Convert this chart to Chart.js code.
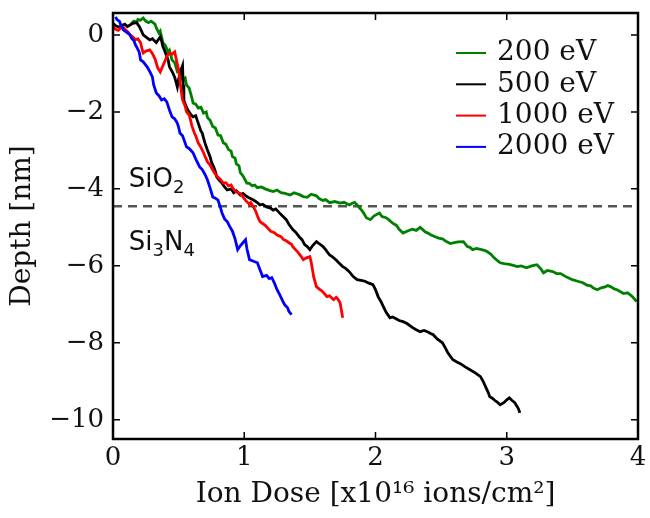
<!DOCTYPE html>
<html>
<head>
<meta charset="utf-8">
<script src="https://cdn.jsdelivr.net/npm/chart.js@4/dist/chart.umd.min.js"></script>
<style>
  html, body { margin: 0; padding: 0; background: #fff; }
  #wrap { width: 650px; height: 518px; }
</style>
</head>
<body>
<div id="wrap"><canvas id="depthChart" width="650" height="518"></canvas></div>
<script>
// data (dose in 1e16 ions/cm2, depth in nm)
const labels = ['200 eV', '500 eV', '1000 eV', '2000 eV'];
const colors = ['#008000', '#000000', '#ff0000', '#0000ff'];

const dose200 = [0.14,0.16,0.18,0.19,0.21,0.23,0.25,0.27,0.29,0.32,0.33,0.35,0.36,0.38,0.40,0.42,0.43,0.45,0.47,0.49,0.51,0.53,0.55,0.56,0.58,0.59,0.60,0.61,0.63,0.65,0.67,0.69,0.71,0.72,0.74,0.76,0.78,0.80,0.82,0.84,0.86,0.88,0.90,0.91,0.93,0.94,0.96,0.97,0.99,1.02,1.04,1.06,1.08,1.10,1.13,1.16,1.19,1.22,1.25,1.28,1.31,1.35,1.38,1.42,1.45,1.48,1.51,1.55,1.57,1.60,1.62,1.65,1.69,1.73,1.76,1.80,1.82,1.84,1.86,1.88,1.90,1.91,1.93,1.96,1.99,2.03,2.05,2.08,2.10,2.13,2.16,2.18,2.21,2.24,2.28,2.31,2.34,2.36,2.38,2.40,2.42,2.45,2.48,2.51,2.54,2.57,2.60,2.63,2.67,2.70,2.72,2.74,2.77,2.80,2.83,2.85,2.88,2.90,2.92,2.95,2.98,3.02,3.05,3.08,3.11,3.15,3.19,3.23,3.26,3.28,3.31,3.35,3.38,3.41,3.44,3.46,3.48,3.50,3.54,3.58,3.61,3.64,3.66,3.69,3.72,3.75,3.77,3.79,3.82,3.84,3.87,3.89,3.92,3.95,3.97,3.99];
const depth200 = [0.30,0.36,0.33,0.40,0.38,0.44,0.36,0.32,0.36,0.28,0.18,0.05,0.10,-0.20,-0.28,-0.45,-0.40,-0.65,-0.72,-0.95,-0.90,-1.17,-1.12,-1.30,-1.38,-1.50,-1.62,-1.77,-1.80,-1.90,-1.88,-2.03,-2.00,-2.15,-2.22,-2.38,-2.42,-2.60,-2.62,-2.80,-2.84,-2.98,-3.02,-3.16,-3.20,-3.35,-3.40,-3.58,-3.66,-3.85,-3.86,-3.92,-3.90,-3.97,-3.95,-4.00,-4.04,-4.07,-4.03,-4.10,-4.12,-4.16,-4.10,-4.15,-4.20,-4.22,-4.14,-4.18,-4.25,-4.30,-4.28,-4.36,-4.33,-4.37,-4.35,-4.42,-4.38,-4.35,-4.42,-4.50,-4.58,-4.63,-4.75,-4.80,-4.70,-4.63,-4.72,-4.75,-4.80,-4.89,-4.95,-5.05,-5.15,-5.10,-5.05,-5.08,-5.00,-5.06,-5.12,-5.15,-5.19,-5.24,-5.28,-5.30,-5.37,-5.42,-5.40,-5.38,-5.37,-5.50,-5.52,-5.58,-5.55,-5.57,-5.60,-5.63,-5.70,-5.78,-5.84,-5.92,-5.94,-5.96,-5.99,-6.02,-6.00,-6.05,-6.00,-5.97,-6.08,-6.18,-6.12,-6.15,-6.20,-6.20,-6.26,-6.30,-6.33,-6.36,-6.40,-6.44,-6.50,-6.52,-6.58,-6.62,-6.57,-6.55,-6.51,-6.54,-6.60,-6.62,-6.68,-6.72,-6.70,-6.78,-6.85,-6.93];

const dose500 = [0.00,0.02,0.05,0.07,0.09,0.11,0.13,0.15,0.18,0.20,0.21,0.22,0.23,0.25,0.28,0.30,0.33,0.35,0.36,0.37,0.38,0.39,0.40,0.42,0.43,0.45,0.47,0.48,0.49,0.50,0.51,0.52,0.53,0.535,0.54,0.55,0.57,0.59,0.61,0.63,0.64,0.66,0.67,0.68,0.69,0.70,0.71,0.72,0.74,0.75,0.77,0.78,0.79,0.81,0.83,0.85,0.87,0.90,0.92,0.94,0.97,0.99,1.02,1.04,1.07,1.10,1.12,1.14,1.17,1.20,1.22,1.24,1.27,1.29,1.32,1.34,1.37,1.39,1.42,1.44,1.46,1.48,1.50,1.52,1.55,1.57,1.60,1.62,1.65,1.67,1.70,1.72,1.75,1.77,1.80,1.83,1.86,1.89,1.92,1.95,1.98,2.00,2.02,2.04,2.06,2.08,2.11,2.13,2.16,2.18,2.21,2.24,2.28,2.31,2.34,2.37,2.40,2.42,2.44,2.47,2.51,2.53,2.55,2.57,2.59,2.62,2.65,2.68,2.72,2.76,2.80,2.82,2.84,2.86,2.87,2.89,2.91,2.93,2.95,2.98,3.00,3.02,3.04,3.06,3.08,3.09,3.10];
const depth500 = [0.30,0.24,0.20,0.25,0.28,0.22,0.26,0.30,0.32,0.22,0.15,0.08,0.00,-0.05,-0.13,-0.10,-0.20,-0.10,-0.05,-0.15,-0.30,-0.38,-0.47,-0.65,-0.83,-0.95,-1.10,-1.22,-1.35,-1.15,-1.00,-0.90,-0.80,-1.30,-1.70,-1.80,-1.95,-2.05,-2.13,-2.10,-2.20,-2.40,-2.50,-2.55,-2.68,-2.80,-2.90,-3.00,-3.17,-3.30,-3.45,-3.55,-3.69,-3.78,-3.85,-3.95,-4.03,-4.00,-4.10,-4.05,-4.16,-4.12,-4.20,-4.24,-4.29,-4.36,-4.42,-4.40,-4.47,-4.50,-4.55,-4.52,-4.63,-4.70,-4.80,-4.92,-5.06,-5.12,-5.25,-5.32,-5.45,-5.50,-5.58,-5.48,-5.37,-5.42,-5.50,-5.58,-5.72,-5.76,-5.85,-5.92,-6.02,-6.06,-6.15,-6.28,-6.36,-6.38,-6.40,-6.45,-6.49,-6.62,-6.80,-6.92,-7.06,-7.20,-7.35,-7.33,-7.38,-7.42,-7.45,-7.50,-7.60,-7.66,-7.71,-7.68,-7.72,-7.76,-7.79,-7.90,-8.00,-8.12,-8.25,-8.35,-8.44,-8.50,-8.55,-8.62,-8.70,-8.78,-8.88,-9.00,-9.15,-9.30,-9.40,-9.44,-9.50,-9.55,-9.61,-9.55,-9.48,-9.43,-9.50,-9.55,-9.66,-9.72,-9.82];

const dose1000 = [0.00,0.02,0.04,0.06,0.08,0.10,0.12,0.13,0.15,0.17,0.19,0.21,0.22,0.23,0.25,0.28,0.30,0.31,0.32,0.33,0.34,0.36,0.38,0.40,0.41,0.43,0.45,0.47,0.48,0.50,0.51,0.52,0.53,0.55,0.56,0.58,0.59,0.60,0.62,0.63,0.65,0.67,0.69,0.70,0.72,0.74,0.76,0.78,0.80,0.82,0.84,0.86,0.88,0.90,0.91,0.93,0.95,0.97,0.99,1.01,1.04,1.05,1.07,1.09,1.10,1.11,1.12,1.14,1.16,1.18,1.20,1.23,1.25,1.28,1.30,1.32,1.34,1.36,1.37,1.39,1.41,1.43,1.45,1.47,1.50,1.51,1.52,1.53,1.55,1.57,1.59,1.61,1.63,1.65,1.68,1.70,1.71,1.72,1.73,1.74,1.75];
const depth1000 = [0.20,0.15,0.12,0.18,0.20,0.12,0.05,0.00,-0.05,-0.12,-0.10,-0.20,-0.35,-0.47,-0.42,-0.39,-0.48,-0.55,-0.62,-0.73,-0.85,-0.96,-0.80,-0.65,-0.55,-0.47,-0.50,-0.44,-0.60,-0.91,-1.20,-1.45,-1.69,-1.85,-2.00,-2.08,-2.20,-2.35,-2.55,-2.62,-2.81,-2.92,-3.06,-3.15,-3.30,-3.38,-3.51,-3.62,-3.70,-3.76,-3.85,-3.84,-3.92,-3.90,-3.97,-4.05,-4.10,-4.12,-4.21,-4.30,-4.40,-4.36,-4.47,-4.60,-4.70,-4.78,-4.85,-4.90,-4.95,-5.02,-5.10,-5.14,-5.20,-5.24,-5.32,-5.35,-5.40,-5.44,-5.50,-5.58,-5.65,-5.74,-5.84,-5.80,-5.76,-5.90,-6.10,-6.30,-6.54,-6.60,-6.65,-6.72,-6.80,-6.78,-6.88,-6.82,-6.85,-6.90,-6.96,-7.15,-7.35];

const dose2000 = [0.02,0.03,0.05,0.06,0.08,0.10,0.13,0.14,0.16,0.17,0.18,0.20,0.21,0.23,0.26,0.28,0.30,0.31,0.33,0.35,0.37,0.39,0.41,0.43,0.45,0.47,0.49,0.50,0.51,0.53,0.56,0.58,0.61,0.63,0.66,0.68,0.70,0.72,0.74,0.76,0.78,0.80,0.82,0.83,0.85,0.87,0.89,0.91,0.93,0.95,0.97,0.99,1.01,1.02,1.04,1.07,1.10,1.12,1.14,1.17,1.19,1.21,1.23,1.25,1.27,1.30,1.31,1.33,1.34,1.36];
const depth2000 = [0.47,0.40,0.35,0.25,0.13,0.08,0.00,-0.08,-0.15,-0.25,-0.31,-0.45,-0.65,-0.70,-0.83,-0.95,-1.09,-1.30,-1.51,-1.58,-1.69,-1.66,-1.74,-1.95,-2.13,-2.18,-2.29,-2.40,-2.55,-2.62,-2.91,-2.95,-3.06,-3.22,-3.43,-3.50,-3.62,-3.77,-3.98,-4.21,-4.24,-4.29,-4.50,-4.62,-4.78,-4.85,-4.98,-5.10,-5.30,-5.58,-5.48,-5.40,-5.32,-5.55,-5.84,-5.88,-5.92,-6.10,-6.28,-6.25,-6.33,-6.31,-6.45,-6.62,-6.75,-6.96,-7.02,-7.09,-7.18,-7.27];

const xTicks = [0, 1, 2, 3, 4];
const yTicks = [-10, -8, -6, -4, -2, 0];
const interfaceDepth = -4.45;
const layerNames = ['SiO2', 'Si3N4'];
const layerLabelX = [0.12, 0.12];
const layerLabelY = [-3.95, -5.58];

const allDose = [dose200, dose500, dose1000, dose2000];
const allDepth = [depth200, depth500, depth1000, depth2000];

function toPoints(xs, ys) {
  return xs.map((x, i) => ({ x: x, y: ys[i] }));
}

// blue is drawn on top, green at the bottom
const datasets = labels.map((lab, i) => ({
  label: lab,
  data: toPoints(allDose[i], allDepth[i]),
  borderColor: colors[i],
  borderWidth: 2.8,
  pointRadius: 0,
  tension: 0,
  fill: false,
  order: labels.length - i
}));
datasets.push({
  label: 'interface',
  data: [{ x: xTicks[0], y: interfaceDepth }, { x: xTicks[xTicks.length - 1], y: interfaceDepth }],
  borderColor: '#555555',
  borderWidth: 2.5,
  borderDash: [9, 6],
  pointRadius: 0,
  fill: false,
  order: 10
});

function minusLabel(v) {
  return v < 0 ? '\u2212' + Math.abs(v) : String(v);
}

// chemical formula with digits as subscripts
function drawFormula(ctx, text, x, y) {
  let cx = x;
  for (const ch of text) {
    const sub = ch >= '0' && ch <= '9';
    ctx.font = sub ? '18px "DejaVu Sans"' : '26px "DejaVu Sans"';
    ctx.fillText(ch, cx, sub ? y + 6 : y);
    cx += ctx.measureText(ch).width;
  }
}

// frame, inward ticks, legend and layer labels
const decorations = {
  id: 'decorations',
  afterDraw(chart) {
    const { ctx, chartArea: a, scales } = chart;
    const xs = scales.x, ys = scales.y;
    ctx.save();
    ctx.strokeStyle = '#000';
    ctx.lineWidth = 1.5;
    const tl = 7;
    xTicks.forEach(v => {
      const px = xs.getPixelForValue(v);
      ctx.beginPath();
      ctx.moveTo(px, a.bottom); ctx.lineTo(px, a.bottom - tl);
      ctx.moveTo(px, a.top); ctx.lineTo(px, a.top + tl);
      ctx.stroke();
    });
    yTicks.forEach(v => {
      const py = ys.getPixelForValue(v);
      ctx.beginPath();
      ctx.moveTo(a.left, py); ctx.lineTo(a.left + tl, py);
      ctx.moveTo(a.right, py); ctx.lineTo(a.right - tl, py);
      ctx.stroke();
    });
    ctx.lineWidth = 2.5;
    ctx.strokeRect(a.left, a.top, a.right - a.left, a.bottom - a.top);

    // legend
    ctx.font = '28px "DejaVu Serif"';
    ctx.textBaseline = 'middle';
    ctx.textAlign = 'left';
    labels.forEach((lab, i) => {
      const y = 53 + i * 31.3;
      ctx.strokeStyle = colors[i];
      ctx.lineWidth = 2;
      ctx.beginPath();
      ctx.moveTo(456, y); ctx.lineTo(486, y);
      ctx.stroke();
      ctx.fillStyle = '#111';
      ctx.fillText(lab, 497, y);
    });

    // layer names
    ctx.textBaseline = 'alphabetic';
    ctx.fillStyle = '#111';
    layerNames.forEach((t, i) => {
      drawFormula(ctx, t, xs.getPixelForValue(layerLabelX[i]), ys.getPixelForValue(layerLabelY[i]));
    });
    ctx.restore();
  }
};

new Chart(document.getElementById('depthChart'), {
  type: 'line',
  data: { datasets: datasets },
  options: {
    responsive: false,
    animation: false,
    layout: { padding: { top: 13, right: 12, left: 0, bottom: 0 } },
    plugins: { legend: { display: false }, tooltip: { enabled: false } },
    scales: {
      x: {
        type: 'linear',
        min: 0,
        max: 4,
        grid: { display: false, drawTicks: false },
        border: { display: false },
        afterBuildTicks: s => { s.ticks = xTicks.map(v => ({ value: v })); },
        afterFit: s => { s.height = 79; s.paddingLeft = 0; s.paddingRight = 0; },
        ticks: {
          padding: 4,
          color: '#111',
          font: { family: 'DejaVu Serif', size: 26 },
          callback: v => String(v)
        },
        title: {
          display: true,
          text: 'Ion Dose [x10\u00b9\u2076 ions/cm\u00b2]',
          color: '#111',
          font: { family: 'DejaVu Serif', size: 28 },
          padding: { top: 0, bottom: 6 }
        }
      },
      y: {
        type: 'linear',
        min: -10.5,
        max: 0.57,
        grid: { display: false, drawTicks: false },
        border: { display: false },
        afterBuildTicks: s => { s.ticks = yTicks.map(v => ({ value: v })); },
        afterFit: s => { s.width = 113; s.paddingTop = 0; s.paddingBottom = 0; },
        ticks: {
          padding: 9,
          color: '#111',
          font: { family: 'DejaVu Serif', size: 26 },
          callback: v => minusLabel(v)
        },
        title: {
          display: true,
          text: 'Depth [nm]',
          color: '#111',
          font: { family: 'DejaVu Serif', size: 28 },
          padding: { top: 6, bottom: 0 }
        }
      }
    }
  },
  plugins: [decorations]
});
</script>
</body>
</html>
